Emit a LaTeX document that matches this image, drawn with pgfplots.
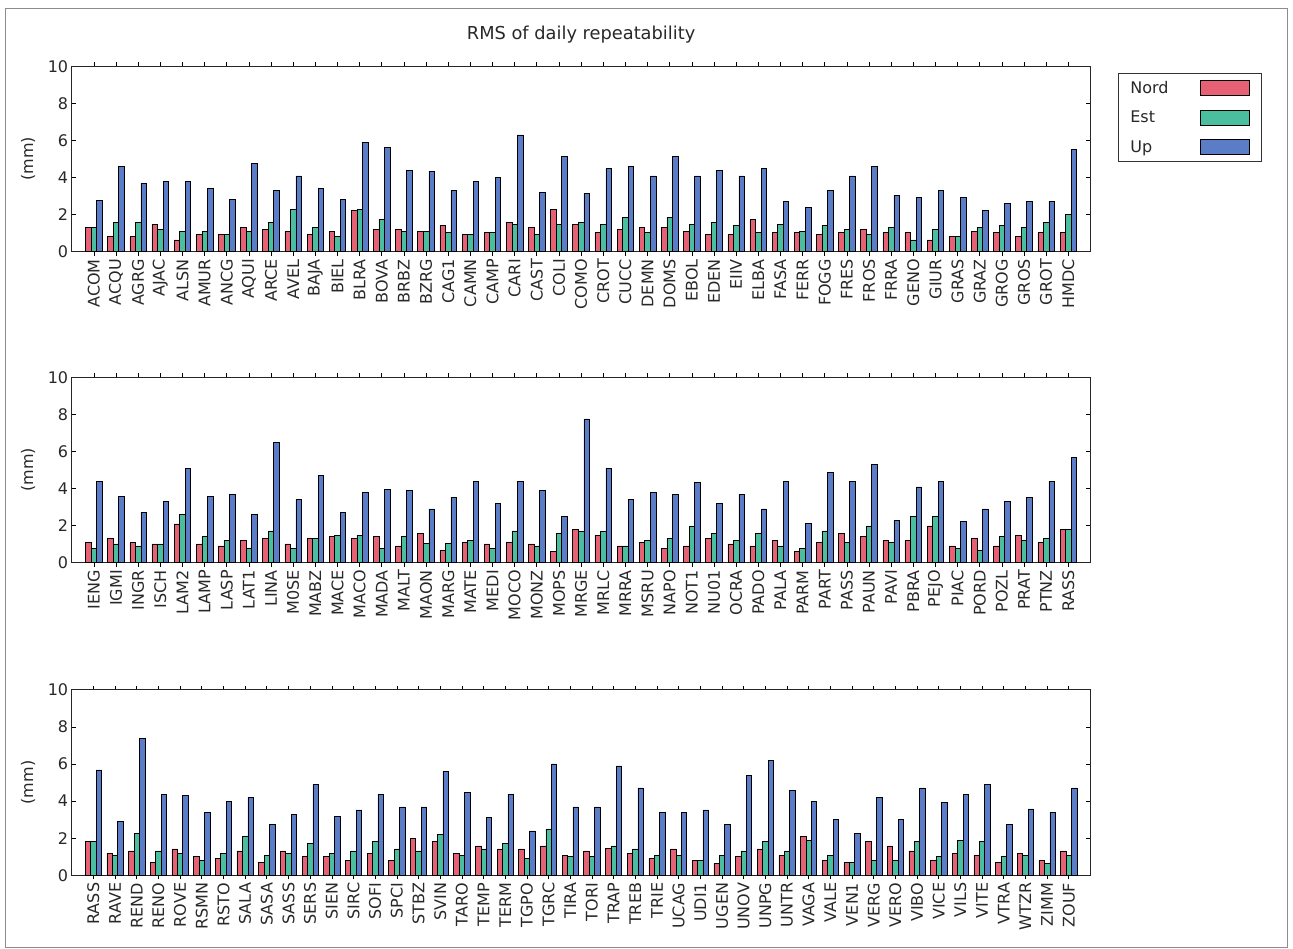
\documentclass[border=0pt]{standalone}
\usepackage{pgfplots}
\pgfplotsset{compat=1.18}
\usepackage{pgfplotstable}
\usepackage{fontspec}
\setmainfont{DejaVu Sans}
\definecolor{cN}{RGB}{230,97,116}
\definecolor{cE}{RGB}{76,190,160}
\definecolor{cU}{RGB}{91,125,199}
\definecolor{txt}{RGB}{40,40,40}

\pgfplotstableread{
name N E U
ACOM 1.31 1.31 2.75
ACQU 0.81 1.60 4.61
AGRG 0.81 1.60 3.70
AJAC 1.47 1.20 3.80
ALSN 0.63 1.08 3.80
AMUR 0.92 1.08 3.41
ANCG 0.92 0.92 2.80
AQUI 1.31 1.08 4.78
ARCE 1.20 1.60 3.30
AVEL 1.08 2.28 4.09
BAJA 0.92 1.31 3.41
BIEL 1.08 0.81 2.80
BLRA 2.23 2.28 5.90
BOVA 1.20 1.72 5.62
BRBZ 1.20 1.08 4.38
BZRG 1.08 1.08 4.33
CAG1 1.42 1.02 3.30
CAMN 0.92 0.92 3.80
CAMP 1.02 1.02 3.99
CARI 1.60 1.47 6.30
CAST 1.31 0.92 3.20
COLI 2.28 1.47 5.12
COMO 1.47 1.60 3.14
CROT 1.02 1.47 4.49
CUCC 1.20 1.83 4.61
DEMN 1.31 1.02 4.09
DOMS 1.31 1.83 5.12
EBOL 1.08 1.47 4.09
EDEN 0.92 1.60 4.38
EIIV 0.92 1.42 4.09
ELBA 1.72 1.02 4.49
FASA 1.02 1.47 2.73
FERR 1.02 1.08 2.39
FOGG 0.92 1.42 3.30
FRES 1.02 1.20 4.09
FROS 1.20 0.92 4.61
FRRA 1.02 1.31 3.02
GENO 1.02 0.63 2.91
GIUR 0.63 1.20 3.30
GRAS 0.81 0.81 2.91
GRAZ 1.08 1.31 2.23
GROG 1.02 1.42 2.62
GROS 0.81 1.31 2.73
GROT 1.02 1.60 2.73
HMDC 1.02 1.99 5.51
}\tabA

\pgfplotstableread{
name N E U
IENG 1.08 0.77 4.38
IGMI 1.32 1.01 3.59
INGR 1.08 0.90 2.72
ISCH 1.01 1.01 3.30
LAM2 2.09 2.61 5.10
LAMP 1.01 1.42 3.59
LASP 0.90 1.19 3.69
LAT1 1.19 0.79 2.61
LINA 1.32 1.71 6.49
M0SE 1.01 0.79 3.41
MABZ 1.32 1.32 4.72
MACE 1.42 1.48 2.72
MACO 1.32 1.48 3.80
MADA 1.42 0.79 3.96
MALT 0.90 1.42 3.91
MAON 1.57 1.06 2.90
MARG 0.67 1.06 3.53
MATE 1.08 1.19 4.38
MEDI 1.01 0.79 3.19
MOCO 1.08 1.71 4.38
MONZ 1.01 0.90 3.91
MOPS 0.61 1.57 2.50
MRGE 1.80 1.69 7.75
MRLC 1.48 1.69 5.10
MRRA 0.90 0.90 3.41
MSRU 1.08 1.19 3.80
NAPO 0.79 1.32 3.69
NOT1 0.90 1.98 4.32
NU01 1.32 1.57 3.19
OCRA 1.01 1.19 3.69
PADO 0.90 1.57 2.90
PALA 1.19 0.90 4.38
PARM 0.61 0.79 2.11
PART 1.08 1.71 4.88
PASS 1.57 1.08 4.38
PAUN 1.42 1.98 5.30
PAVI 1.19 1.08 2.29
PBRA 1.19 2.50 4.09
PEJO 1.98 2.50 4.38
PIAC 0.90 0.79 2.22
PORD 1.32 0.67 2.90
POZL 0.90 1.42 3.30
PRAT 1.48 1.19 3.53
PTNZ 1.08 1.32 4.38
RASS 1.80 1.80 5.69
}\tabB

\pgfplotstableread{
name N E U
RASS 1.82 1.82 5.68
RAVE 1.19 1.08 2.90
REND 1.31 2.27 7.39
RENO 0.68 1.31 4.37
ROVE 1.42 1.19 4.32
RSMN 1.03 0.79 3.40
RSTO 0.90 1.19 3.97
SALA 1.31 2.10 4.21
SASA 0.68 1.08 2.73
SASS 1.31 1.19 3.29
SERS 1.03 1.71 4.89
SIEN 1.03 1.19 3.18
SIRC 0.79 1.31 3.53
SOFI 1.19 1.82 4.37
SPCI 0.79 1.42 3.69
STBZ 2.00 1.31 3.69
SVIN 1.82 2.21 5.61
TARO 1.19 1.08 4.48
TEMP 1.58 1.42 3.13
TERM 1.42 1.71 4.37
TGPO 1.42 0.92 2.39
TGRC 1.58 2.50 6.00
TIRA 1.08 1.03 3.69
TORI 1.31 1.03 3.69
TRAP 1.47 1.58 5.90
TREB 1.19 1.42 4.71
TRIE 0.92 1.08 3.40
UCAG 1.42 1.08 3.40
UDI1 0.79 0.79 3.53
UGEN 0.63 1.08 2.73
UNOV 1.03 1.31 5.40
UNPG 1.42 1.82 6.19
UNTR 1.08 1.31 4.59
VAGA 2.10 1.87 3.97
VALE 0.79 1.08 3.00
VEN1 0.68 0.68 2.27
VERG 1.82 0.79 4.21
VERO 1.58 0.79 3.00
VIBO 1.31 1.82 4.71
VICE 0.79 1.03 3.92
VILS 1.19 1.87 4.37
VITE 1.08 1.82 4.89
VTRA 0.68 1.03 2.73
WTZR 1.19 1.08 3.58
ZIMM 0.79 0.63 3.40
ZOUF 1.31 1.08 4.71
}\tabC

\pgfplotsset{
  panel/.style={
    scale only axis, width=1018.8pt, height=185.5pt,
    anchor=south west,
    xmin=-1, xmax=#1,
    ymin=0, ymax=10, ytick={0,2,4,6,8,10},
    /pgf/number format/assume math mode=true,
    xtick=data,
    tick align=inside,
    xtick pos=both, ytick pos=both,
    xticklabel pos=lower, yticklabel pos=left,
    major tick length=4pt,
    every tick/.style={black, line width=0.6pt},
    axis line style={black!85, line width=0.9pt},
    tick label style={font=\fontsize{16}{18}\selectfont, text=txt},
    xticklabel style={rotate=90, anchor=east},
    ylabel={(mm)},
    ylabel style={at={(-0.0429,0.5)}, anchor=center, font=\fontsize{16}{18}\selectfont, text=txt},
    ybar, bar width=0.25,
    every axis plot/.append style={draw=black, line width=0.6pt},
  },
}

\begin{document}
\begin{tikzpicture}[x=1pt,y=1pt]
\path[use as bounding box] (0,0) rectangle (1293,949);
\draw[black!45, line width=0.8pt] (5,2) rectangle (1287,941);

\begin{axis}[panel=45, at={(71.7pt,697.3pt)},
  xticklabels from table={\tabA}{name},
  title={RMS of daily repeatability},
  title style={at={(0.5,1)}, anchor=center, yshift=26pt, font=\fontsize{17.8}{20}\selectfont, text=txt},
  legend style={at={(1.027,0.9617)}, anchor=north west, draw=black!80, line width=0.7pt,
    font=\fontsize{16}{18}\selectfont, text=txt,
    inner xsep=12pt, inner ysep=6.5pt, row sep=14pt, column sep=31.5pt,
    nodes={inner sep=0pt}},
  legend plot pos=right,
  legend cell align=left,
  legend image code/.code={\draw[#1,/tikz/.cd,draw=black,line width=0.6pt] (0pt,-7.5pt) rectangle (49pt,7.5pt);},
]
\addplot[fill=cN, bar shift=-0.25] table[x expr=\coordindex, y=N] {\tabA};
\addplot[fill=cE, bar shift=0] table[x expr=\coordindex, y=E] {\tabA};
\addplot[fill=cU, bar shift=0.25] table[x expr=\coordindex, y=U] {\tabA};
\legend{Nord,Est,Up}
\end{axis}

\begin{axis}[panel=45, at={(71.7pt,386.3pt)},
  xticklabels from table={\tabB}{name}]
\addplot[fill=cN, bar shift=-0.25] table[x expr=\coordindex, y=N] {\tabB};
\addplot[fill=cE, bar shift=0] table[x expr=\coordindex, y=E] {\tabB};
\addplot[fill=cU, bar shift=0.25] table[x expr=\coordindex, y=U] {\tabB};
\end{axis}

\begin{axis}[panel=46, at={(71.7pt,73.7pt)},
  xticklabels from table={\tabC}{name}]
\addplot[fill=cN, bar shift=-0.25] table[x expr=\coordindex, y=N] {\tabC};
\addplot[fill=cE, bar shift=0] table[x expr=\coordindex, y=E] {\tabC};
\addplot[fill=cU, bar shift=0.25] table[x expr=\coordindex, y=U] {\tabC};
\end{axis}
\end{tikzpicture}
\end{document}
